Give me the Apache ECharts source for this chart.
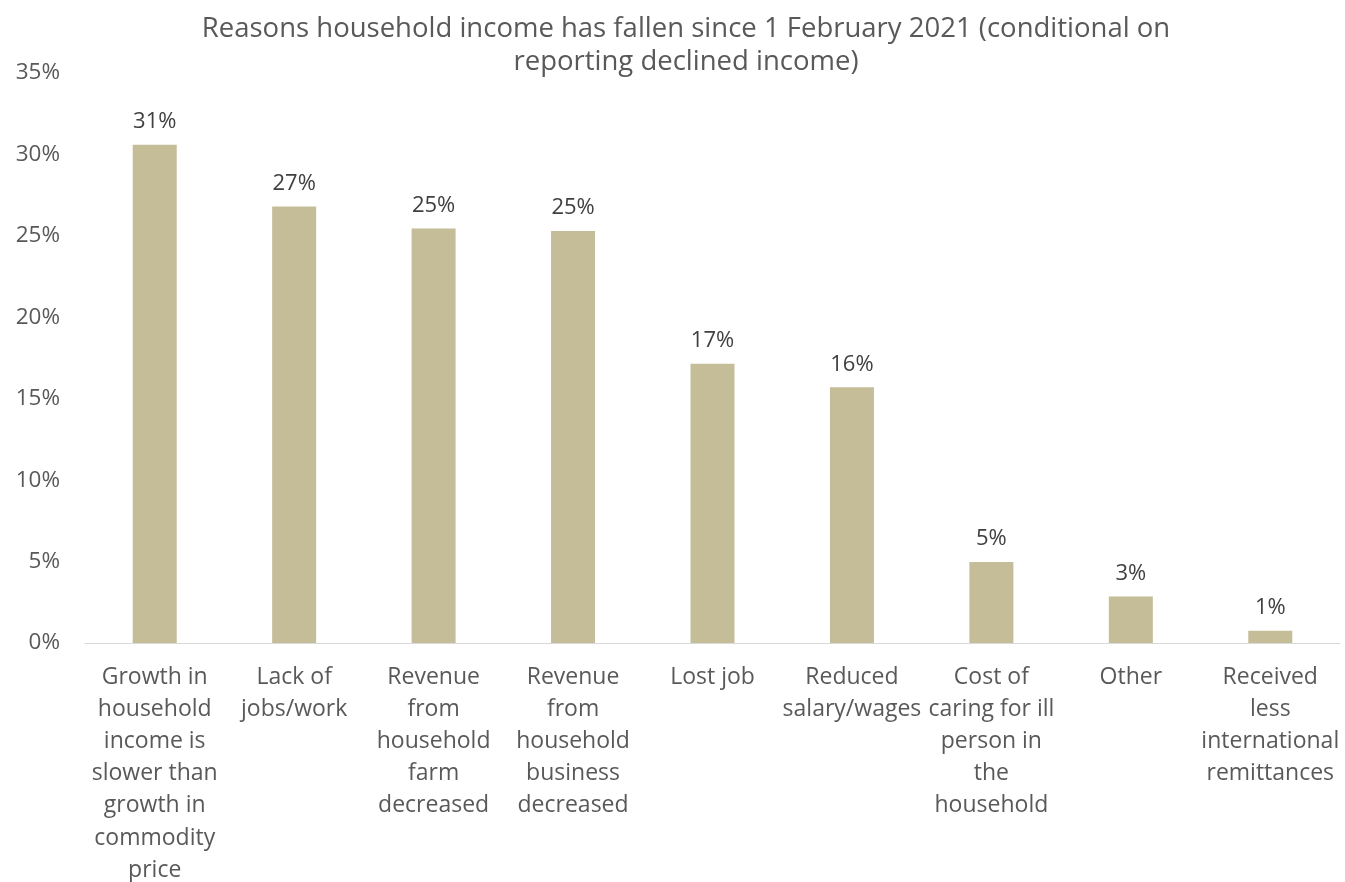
<!DOCTYPE html>
<html>
<head>
<meta charset="utf-8">
<script src="https://cdn.jsdelivr.net/npm/echarts@6/dist/echarts.min.js"></script>
<style>
  html, body { margin: 0; padding: 0; background: #fff; }
  #chart { width: 1345px; height: 882px; }
</style>
</head>
<body>
<div id="chart"></div>
<script>
// Reasons for declining household income (share of households reporting a decline)
const categories = [
  'Growth in\nhousehold\nincome is\nslower than\ngrowth in\ncommodity\nprice',
  'Lack of\njobs/work',
  'Revenue\nfrom\nhousehold\nfarm\ndecreased',
  'Revenue\nfrom\nhousehold\nbusiness\ndecreased',
  'Lost job',
  'Reduced\nsalary/wages',
  'Cost of\ncaring for ill\nperson in\nthe\nhousehold',
  'Other',
  'Received\nless\ninternational\nremittances'
];
const shares = [30.6, 26.8, 25.45, 25.3, 17.15, 15.7, 4.97, 2.85, 0.75];
const yTicks = { min: 0, max: 35, interval: 5 };

const FONT = 'Open Sans';
const chart = echarts.init(document.getElementById('chart'));
chart.setOption({
  animation: false,
  textStyle: { fontFamily: FONT },
  title: {
    text: 'Reasons household income has fallen since 1 February 2021 (conditional on\nreporting declined income)',
    left: 681,
    top: 8,
    textAlign: 'center',
    textStyle: { fontFamily: FONT, fontSize: 27.5, fontWeight: 'normal', color: '#595959', lineHeight: 33 }
  },
  grid: { left: 85, right: 5, top: 73, bottom: 239, outerBoundsMode: 'none', containLabel: false },
  xAxis: {
    type: 'category',
    data: categories,
    axisLine: { lineStyle: { color: '#d9d9d9', width: 1 } },
    axisTick: { show: false },
    axisLabel: {
      interval: 0,
      margin: 18,
      fontFamily: FONT,
      fontSize: 23,
      lineHeight: 32.2,
      color: '#595959',
      align: 'center'
    }
  },
  yAxis: {
    type: 'value',
    min: yTicks.min,
    max: yTicks.max,
    interval: yTicks.interval,
    splitLine: { show: false },
    axisLine: { show: false },
    axisTick: { show: false },
    axisLabel: {
      fontFamily: FONT,
      fontSize: 22.5,
      color: '#595959',
      margin: 25,
      formatter: v => v + '%'
    }
  },
  series: [{
    type: 'bar',
    data: shares,
    barWidth: 44,
    itemStyle: { color: '#c4bd97' },
    label: {
      show: true,
      position: 'top',
      distance: 12,
      fontFamily: FONT,
      fontSize: 22,
      color: '#404040',
      formatter: p => Math.round(p.value) + '%'
    }
  }]
});
</script>
</body>
</html>
